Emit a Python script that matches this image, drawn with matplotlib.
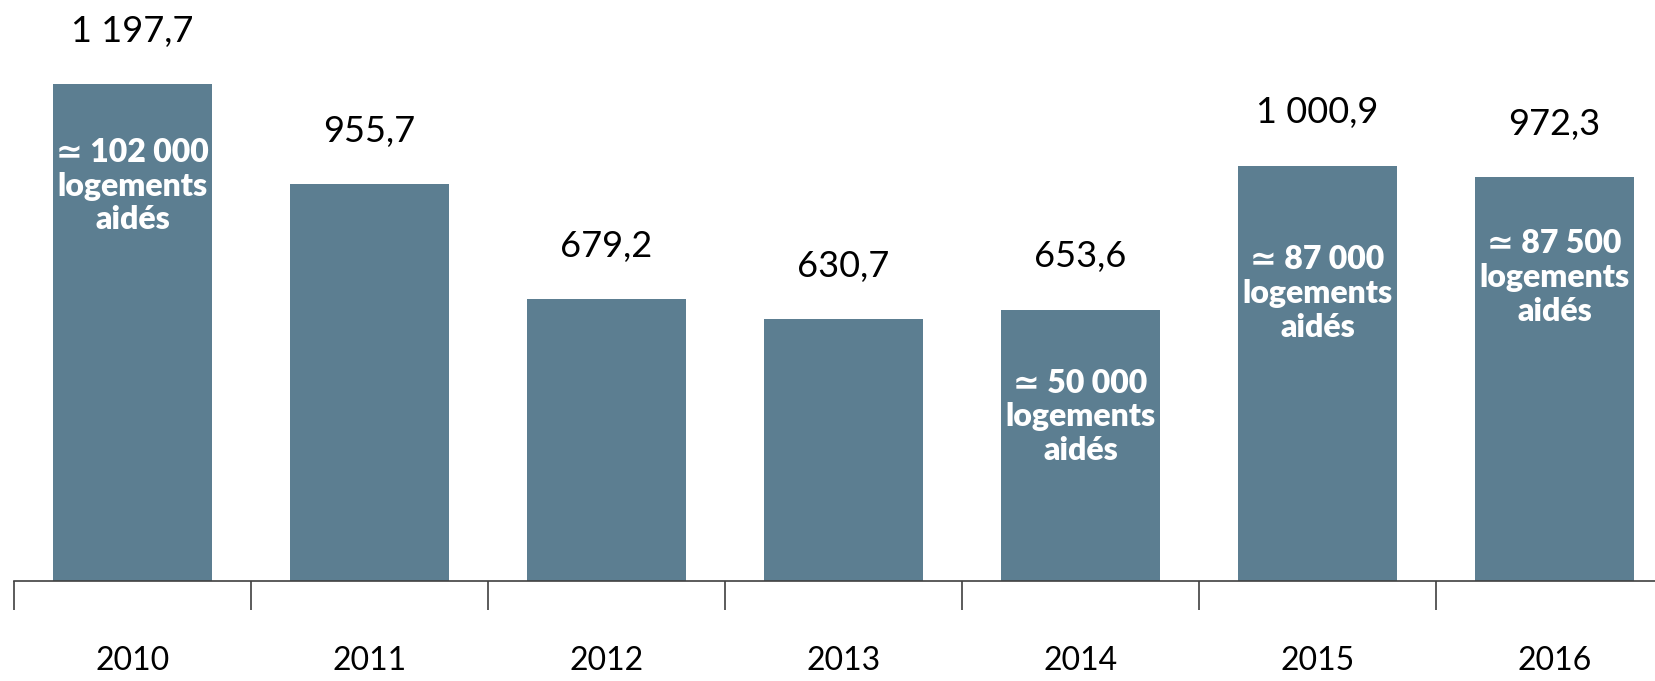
import matplotlib.pyplot as plt
from matplotlib.ticker import FixedLocator

# Data
years = ["2010", "2011", "2012", "2013", "2014", "2015", "2016"]
values = [1197.7, 955.7, 679.2, 630.7, 653.6, 1000.9, 972.3]
value_labels = ["1 197,7", "955,7", "679,2", "630,7", "653,6", "1 000,9", "972,3"]

# Annotations inside some bars (index -> text)
inner_idx = [0, 4, 5, 6]
inner_text = ["\u2243 102 000\nlogements\naidés",
              "\u2243 50 000\nlogements\naidés",
              "\u2243 87 000\nlogements\naidés",
              "\u2243 87 500\nlogements\naidés"]
inner_drop = [246, 258, 308, 241]  # distance below bar top, data units

bar_color = "#5c7e91"
fonts = ["Lato", "DejaVu Sans"]

fig = plt.figure(figsize=(16.55, 6.81), dpi=100)
ax = fig.add_axes([14 / 1655, 1 - 581 / 681, 1659 / 1655, 581 / 681])

x = list(range(len(years)))
ax.bar(x, values, width=0.67, color=bar_color)
ax.set_xlim(-0.5, len(years) - 0.5)
ax.set_ylim(0, 1400)

# value labels above bars
for xi, v, lab in zip(x, values, value_labels):
    ax.annotate(lab, (xi, v), xytext=(0, 38), textcoords="offset points",
                ha="center", va="center", fontsize=26, family=fonts, color="black")

# white bold text inside bars
for i, txt, d in zip(inner_idx, inner_text, inner_drop):
    ax.text(x[i], values[i] - d, txt, ha="center", va="center", color="white",
            fontsize=23, fontweight="heavy", family=fonts, linespacing=1.2)

for s in ["top", "right", "left"]:
    ax.spines[s].set_visible(False)
ax.spines["bottom"].set_color("#404040")
ax.spines["bottom"].set_linewidth(1.2)
ax.set_yticks([])

ax.set_xticks(x)
ax.set_xticklabels(years, fontsize=23, family=fonts)
ax.tick_params(axis="x", which="major", length=0, pad=47)
ax.xaxis.set_minor_locator(FixedLocator([i - 0.5 for i in range(len(years) + 1)]))
ax.tick_params(axis="x", which="minor", length=21, width=1.2, color="#404040")

fig.savefig("out.png", dpi=100)
